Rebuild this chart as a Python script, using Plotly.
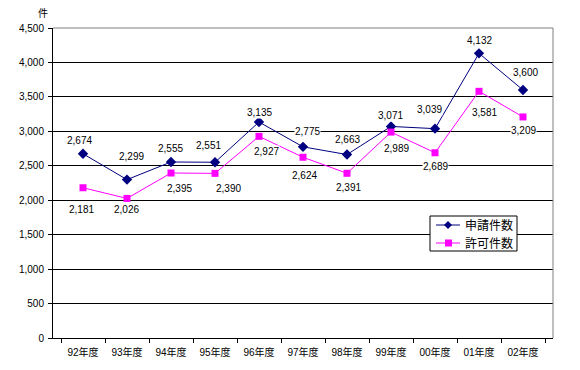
import plotly.graph_objects as go

categories = ["92年度", "93年度", "94年度", "95年度", "96年度", "97年度",
              "98年度", "99年度", "00年度", "01年度", "02年度"]
applications = [2674, 2299, 2555, 2551, 3135, 2775, 2663, 3071, 3039, 4132, 3600]
permits = [2181, 2026, 2395, 2390, 2927, 2624, 2391, 2989, 2689, 3581, 3209]
series_names = ["申請件数", "許可件数"]
y_ticks = [0, 500, 1000, 1500, 2000, 2500, 3000, 3500, 4000, 4500]

# label offsets in pixels (layout only)
app_off = [(-4, 13), (4, 23), (-1, 13), (-7, 17), (0, 10), (4, 15),
           (0, 15), (-1, 11), (-6, 19), (0, 13), (2, 18)]
per_off = [(-2, -22), (-1, -11), (8, -15), (13, -15), (7, -15), (1, -18),
           (1, -14), (5, -16), (0, -14), (5, -21), (0, -14)]

FONT = "Liberation Sans, Noto Sans CJK JP, sans-serif"
BLUE = "#000080"
PINK = "#FF00FF"

# plot-area geometry in pixels (relative to figure)
L, T, W, H = 45, 20, 500, 310


def px(x):
    return (x - 53) / W


def py(y):
    return 1 - (y - 28) / H


fig = go.Figure()
fig.add_trace(go.Scatter(
    x=categories, y=applications, name=series_names[0], mode="lines+markers",
    line=dict(color=BLUE, width=1),
    marker=dict(symbol="diamond", size=8, color=BLUE),
))
fig.add_trace(go.Scatter(
    x=categories, y=permits, name=series_names[1], mode="lines+markers",
    line=dict(color=PINK, width=1),
    marker=dict(symbol="square", size=7, color=PINK),
))

annotations = []
for vals, offs in ((applications, app_off), (permits, per_off)):
    for c, v, (dx, dy) in zip(categories, vals, offs):
        annotations.append(dict(
            x=c, y=v, xref="x", yref="y", text=f"{v:,}", showarrow=False,
            xshift=dx, yshift=dy, bgcolor="white", borderpad=0,
            font=dict(family=FONT, size=10, color="black"),
        ))
annotations.append(dict(
    x=px(43), y=py(14), xref="paper", yref="paper", text="件", showarrow=False,
    xanchor="center", yanchor="middle",
    font=dict(family=FONT, size=10, color="black"),
))

# custom legend (box, line samples, markers, labels)
shapes = [
    dict(type="line", xref="paper", yref="paper", x0=0, x1=1, y0=1, y1=1,
         line=dict(color="#808080", width=1)),
    dict(type="line", xref="paper", yref="paper", x0=1, x1=1, y0=0, y1=1,
         line=dict(color="#808080", width=1)),
    dict(type="rect", xref="paper", yref="paper", x0=px(430), x1=px(517),
         y0=py(251), y1=py(216), fillcolor="white",
         line=dict(color="black", width=1)),
]
legend_rows = [(225, BLUE, "diamond", series_names[0]),
               (243, PINK, "square", series_names[1])]
for ry, col, sym, name in legend_rows:
    shapes.append(dict(type="line", xref="paper", yref="paper",
                       x0=px(436), x1=px(460), y0=py(ry), y1=py(ry),
                       line=dict(color=col, width=1)))
    if sym == "diamond":
        path = (f"M {px(448)},{py(ry - 4)} L {px(452)},{py(ry)} "
                f"L {px(448)},{py(ry + 4)} L {px(444)},{py(ry)} Z")
    else:
        path = (f"M {px(445)},{py(ry - 3.5)} L {px(452)},{py(ry - 3.5)} "
                f"L {px(452)},{py(ry + 3.5)} L {px(445)},{py(ry + 3.5)} Z")
    shapes.append(dict(type="path", xref="paper", yref="paper", path=path,
                       fillcolor=col, line=dict(color=col, width=0)))
    annotations.append(dict(
        x=px(463), y=py(ry), xref="paper", yref="paper", text=name,
        showarrow=False, xanchor="left", yanchor="middle",
        font=dict(family=FONT, size=12, color="black"),
    ))

fig.update_layout(
    width=572, height=362,
    margin=dict(l=L, r=572 - L - W, t=T, b=362 - T - H, autoexpand=False),
    paper_bgcolor="white", plot_bgcolor="white",
    font=dict(family=FONT, size=10, color="black"),
    annotations=annotations,
    shapes=shapes,
    showlegend=False,
    xaxis=dict(
        type="category", showgrid=False, showline=True, linecolor="black",
        linewidth=1, ticks="outside", tickson="boundaries", ticklen=4,
        tickcolor="black", tickfont=dict(size=10), automargin=False,
        ticklabelstandoff=5,
    ),
    yaxis=dict(
        range=[0, 4500], tickvals=y_ticks,
        ticktext=[f"{t:,}" for t in y_ticks],
        showgrid=True, gridcolor="black", gridwidth=1,
        showline=True, linecolor="black", linewidth=1,
        ticks="outside", ticklen=4, tickcolor="black", zeroline=False,
        tickfont=dict(size=10), automargin=False, ticklabelstandoff=2,
    ),
)

fig.write_html("out.html")
